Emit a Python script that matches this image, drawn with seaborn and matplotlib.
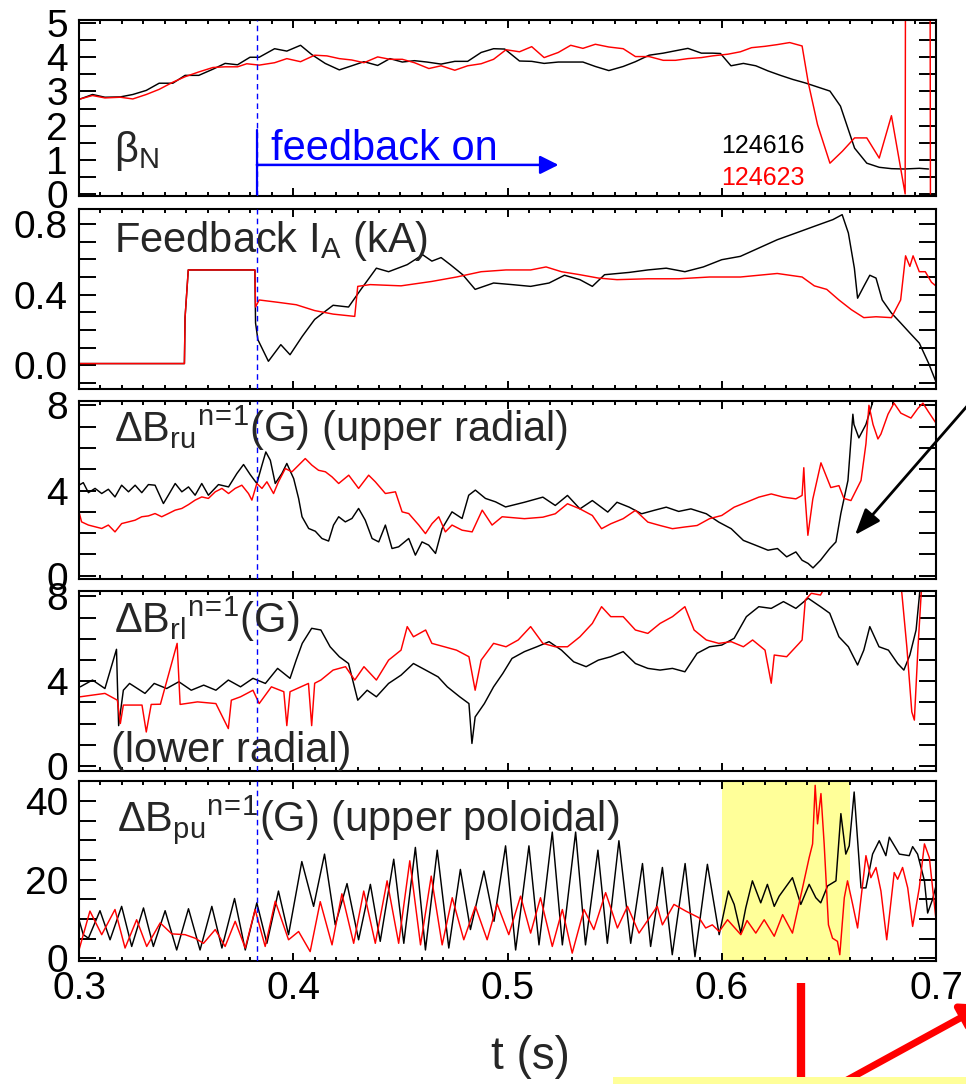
import numpy as np
import pandas as pd
import matplotlib
matplotlib.use("Agg")
import matplotlib.pyplot as plt
import seaborn as sns
from matplotlib.ticker import MultipleLocator, FixedLocator, FormatStrFormatter
from matplotlib.patches import FancyArrowPatch, Rectangle
from matplotlib.lines import Line2D

# ---------------- data ----------------
shots = ["124616", "124623"]
feedback_on_t = 0.383
highlight_t = [0.600, 0.660]

# beta_N
bn_t_k = [0.3006,0.3063,0.3121,0.3193,0.3251,0.3314,0.3374,0.3438,0.3495,0.3559,
          0.3625,0.3682,0.3740,0.3798,0.3841,0.3913,0.3970,0.4034,0.4086,0.4149,
          0.4215,0.4273,0.4330,0.4394,0.4451,0.4509,0.4566,0.4624,0.4690,0.4754,
          0.4814,0.4877,0.4935,0.4987,0.5056,0.5113,0.5171,0.5237,0.5295,0.5352,
          0.5410,0.5473,0.5540,0.5597,0.5661,0.5727,0.5784,0.5842,0.5905,0.5957,
          0.5994,0.6043,0.6101,0.6159,0.6216,0.6274,0.6332,0.6389,0.6447,0.6505,
          0.6554,0.6591,0.6620,0.6677,0.6735,0.6792,0.6850,0.6922,0.6965]
bn_v_k = [2.78,2.91,2.83,2.84,2.91,3.03,3.24,3.24,3.47,3.47,
          3.65,3.82,3.78,4.0,4.0,4.25,4.18,4.35,4.08,3.82,
          3.63,3.75,3.87,3.76,3.96,3.86,3.9,3.86,3.8,3.88,
          3.88,4.14,4.25,4.24,3.89,3.88,3.82,3.86,3.86,3.86,
          3.73,3.61,3.73,3.87,4.06,4.12,4.19,4.26,4.12,4.12,
          4.11,3.75,3.82,3.75,3.6,3.47,3.35,3.25,3.13,3.01,
          2.57,1.88,1.34,0.9,0.78,0.74,0.73,0.75,0.73]
bn_t_r = [0.3006,0.3063,0.3121,0.3193,0.3251,0.3314,0.3374,0.3438,0.3495,0.3559,
          0.3625,0.3682,0.3740,0.3783,0.3841,0.3913,0.3970,0.4034,0.4100,0.4157,
          0.4215,0.4273,0.4330,0.4394,0.4451,0.4509,0.4566,0.4633,0.4690,0.4754,
          0.4814,0.4877,0.4935,0.4993,0.5056,0.5113,0.5171,0.5237,0.5295,0.5352,
          0.5410,0.5473,0.5540,0.5597,0.5661,0.5727,0.5784,0.5842,0.5905,0.5957,
          0.6029,0.6087,0.6139,0.6202,0.6259,0.6317,0.6375,0.6404,0.6447,0.6505,
          0.6563,0.6620,0.6677,0.6735,0.6792,0.6856,0.6858,0.6972,0.6974]
bn_v_r = [2.78,2.88,2.81,2.83,2.78,2.91,3.06,3.27,3.43,3.57,
          3.70,3.72,3.72,3.81,3.77,3.84,3.96,3.87,4.06,4.04,
          3.96,3.92,3.84,4.01,3.94,3.94,3.84,3.67,3.75,3.62,
          3.75,3.81,3.94,4.22,4.16,4.31,3.99,4.14,4.35,4.26,
          4.38,4.30,4.25,4.02,4.02,3.91,3.91,3.96,3.99,4.04,
          4.09,4.16,4.28,4.32,4.37,4.43,4.33,3.25,2.03,0.90,
          1.25,1.64,1.64,1.05,2.29,0.0,8.0,8.0,0.0]

# Feedback I_A (kA)
ia_t_k = [0.3,0.3492,0.3495,0.3510,0.3821,0.3824,0.3835,0.3884,0.3942,0.3985,
          0.4042,0.4100,0.4186,0.4258,0.4316,0.4388,0.4445,0.4532,0.4604,0.4647,
          0.4690,0.4733,0.4791,0.4849,0.4935,0.5021,0.5108,0.5194,0.5266,0.5338,
          0.5396,0.5453,0.5568,0.5655,0.5741,0.5828,0.5914,0.6000,0.6087,0.6173,
          0.6259,0.6346,0.6432,0.6519,0.6562,0.6591,0.6619,0.6634,0.6663,0.6691,
          0.6720,0.6749,0.6792,0.6835,0.6878,0.6922,0.6965,0.7002]
ia_v_k = [0.01,0.01,0.27,0.54,0.54,0.24,0.145,0.023,0.117,0.06,
          0.164,0.26,0.34,0.33,0.43,0.55,0.53,0.57,0.626,0.59,
          0.61,0.57,0.513,0.43,0.466,0.457,0.447,0.466,0.51,0.485,
          0.447,0.513,0.526,0.54,0.55,0.53,0.557,0.598,0.617,0.664,
          0.711,0.749,0.787,0.825,0.853,0.749,0.55,0.38,0.447,0.51,
          0.494,0.37,0.296,0.24,0.183,0.126,0.013,-0.1]
ia_t_r = [0.3,0.3492,0.3495,0.3510,0.3821,0.3824,0.3841,0.3927,0.4014,0.4100,
          0.4186,0.4287,0.4301,0.4359,0.4503,0.4647,0.4762,0.4877,0.4993,0.5108,
          0.5180,0.5252,0.5338,0.5424,0.5511,0.5655,0.5799,0.5943,0.6087,0.6259,
          0.6375,0.6432,0.6490,0.6547,0.6605,0.6663,0.6720,0.6792,0.6835,0.6858,
          0.6878,0.6893,0.6922,0.6950,0.6979,0.7002]
ia_v_r = [0.01,0.01,0.27,0.54,0.54,0.33,0.37,0.357,0.343,0.31,
          0.29,0.277,0.447,0.457,0.45,0.475,0.50,0.53,0.54,0.54,
          0.557,0.53,0.513,0.494,0.485,0.49,0.49,0.50,0.50,0.52,
          0.50,0.45,0.43,0.37,0.315,0.27,0.275,0.27,0.37,0.62,
          0.56,0.62,0.53,0.53,0.47,0.447]

# dB_ru (upper radial)
ru_t_k = [0.3,0.302,0.3044,0.3075,0.3106,0.3137,0.3168,0.3199,0.3231,0.3262,
          0.3293,0.3324,0.3355,0.3394,0.3417,0.3449,0.348,0.3511,0.3542,0.3573,
          0.3604,0.3651,0.3698,0.3737,0.3768,0.3799,0.383,0.3854,0.3872,0.3893,
          0.3916,0.3947,0.397,0.4002,0.4025,0.4041,0.4072,0.4103,0.4134,0.4165,
          0.4188,0.4212,0.4243,0.4274,0.4305,0.4336,0.4368,0.4399,0.443,0.4461,
          0.4492,0.4539,0.457,0.4601,0.4632,0.4664,0.4695,0.4741,0.4788,0.4819,
          0.485,0.4897,0.4944,0.4991,
          0.5079,0.5165,0.5223,0.5280,0.5338,0.5396,0.5468,0.5511,0.5568,0.5626,
          0.5684,0.5741,0.5799,0.5856,0.5928,0.5986,0.6044,0.6101,0.6159,0.6216,
          0.6260,0.6303,0.6346,0.6375,0.6403,0.6426,0.6461,0.6504,0.6533,0.6556,
          0.6589,0.6612,0.6617,0.6640,0.6673,0.6706,0.6720,0.7000]
ru_v_k = [4.25,4.37,3.9,4.1,3.86,4.06,3.7,4.25,3.94,4.25,
          3.9,4.28,4.25,3.39,3.78,4.33,3.94,4.17,3.78,4.33,
          3.78,4.28,4.17,4.8,5.22,4.75,4.33,5.19,5.81,5.42,
          4.33,4.8,5.27,4.56,3.63,2.77,2.22,2.09,1.75,1.63,
          2.38,2.77,2.53,2.69,3.16,2.61,1.75,1.59,2.38,1.28,
          1.36,1.75,0.97,1.59,1.44,1.05,2.22,3.0,2.69,3.78,
          4.02,3.63,3.47,3.23,
          3.45,3.69,3.3,3.77,3.14,3.53,2.99,3.45,3.22,2.91,
          3.07,3.22,3.02,3.14,2.91,2.52,2.21,1.66,1.43,1.2,
          1.28,0.89,1.12,0.73,0.58,0.37,0.73,1.28,1.59,2.93,
          4.47,7.58,7.1,6.47,7.1,8.2,9.5,10.0]
ru_t_r = [0.3,0.3012,0.3044,0.3075,0.3106,0.3137,0.3168,0.3199,0.3231,0.3262,
          0.3293,0.3324,0.3355,0.3386,0.3417,0.3449,0.348,0.3511,0.3542,0.3573,
          0.3604,0.3636,0.3667,0.3698,0.3729,0.376,0.3791,0.3807,0.383,0.3854,
          0.3877,0.3908,0.3931,0.3963,0.3994,0.4025,0.4056,0.4087,0.4118,0.415,
          0.4181,0.4212,0.4259,0.4305,0.4352,0.4383,0.443,0.4477,0.4508,0.4539,
          0.4586,0.4617,0.4648,0.4679,0.471,0.4741,0.4788,0.4835,0.4882,0.4928,
          0.4975,
          0.5079,0.5165,0.5223,0.5280,0.5338,0.5396,0.5439,0.5482,0.5540,0.5597,
          0.5655,0.5712,0.5770,0.5828,0.5885,0.5943,0.6000,0.6058,0.6115,0.6173,
          0.6231,0.6288,0.6346,0.6375,0.6383,0.6390,0.6402,0.6425,0.6463,0.6509,
          0.6547,0.6570,0.6603,0.6650,0.6673,0.6687,0.6706,0.6729,0.6743,0.6776,
          0.6804,0.6836,0.6883,0.6916,0.6939,0.6963,0.7000]
ru_v_r = [3.0,2.53,2.38,2.3,2.22,2.38,2.06,2.45,2.53,2.61,
          2.77,2.81,2.92,2.77,2.92,3.08,3.16,3.34,3.55,3.7,
          3.63,3.94,4.1,3.86,4.1,4.25,3.86,3.55,4.33,4.1,
          4.41,3.86,4.41,5.03,4.88,5.19,5.5,5.19,4.95,4.88,
          4.64,4.33,4.72,4.1,4.72,4.41,3.86,3.94,3.0,2.92,
          2.38,1.98,2.45,2.77,2.06,2.38,2.14,2.06,3.08,2.38,
          2.77,
          2.68,2.75,2.91,3.38,3.14,2.83,2.21,2.44,2.68,3.07,
          2.52,2.36,2.21,2.29,2.36,2.68,2.83,3.22,3.45,3.69,
          3.84,3.69,3.61,3.77,5.07,3.6,1.9,3.6,5.3,4.14,
          4.23,3.63,3.53,4.47,6.19,8.0,7.1,6.42,6.65,7.58,
          8.1,7.63,7.4,7.86,8.1,7.72,7.16]

# dB_rl (lower radial)
rl_t_k = [0.3006,0.3063,0.3121,0.3175,0.3179,0.3185,0.3207,0.3236,0.3308,0.3351,
          0.3409,0.3466,0.3524,0.3582,0.3639,0.3697,0.3754,0.3812,0.3870,0.3927,
          0.3985,0.4014,0.4042,0.4086,0.4129,0.4172,0.4215,0.4258,0.4301,0.4345,
          0.4388,0.4445,0.4503,0.4561,0.4618,0.4676,0.4719,0.4777,0.4820,0.4834,
          0.4849,0.4892,0.4935,0.4978,0.5021,0.5079,0.5137,0.5194,0.5252,0.5309,
          0.5367,0.5424,0.5482,0.5540,0.5597,0.5655,0.5712,0.5770,0.5828,0.5885,
          0.5943,0.6000,0.6058,0.6115,0.6173,0.6231,0.6288,0.6346,0.6403,0.6461,
          0.6504,0.6547,0.6591,0.6634,0.6663,0.6691,0.6734,0.6778,0.6821,0.6850,
          0.6878,0.6907,0.6927,0.6979]
rl_v_k = [3.73,4.05,3.65,5.5,3.97,1.9,3.57,3.89,3.42,3.89,
          3.65,3.97,3.57,3.81,3.57,4.05,3.73,4.13,3.89,4.6,
          4.13,5.0,5.78,6.49,6.41,5.62,5.15,4.83,3.1,3.57,
          3.26,3.89,4.28,4.83,4.52,4.2,3.73,3.26,2.94,1.06,
          2.31,2.94,3.73,4.36,5.07,5.39,5.62,5.86,5.46,4.91,
          4.68,4.99,5.15,5.39,4.83,4.6,4.52,4.6,4.44,5.31,
          5.62,5.7,6.02,7.04,7.51,7.43,7.75,7.43,7.91,7.51,
          7.2,6.09,5.62,4.76,5.46,6.57,5.62,5.46,4.83,4.52,
          5.23,6.41,8.5,9.5]
rl_t_r = [0.3006,0.3063,0.3121,0.3179,0.3193,0.3207,0.3294,0.3314,0.3337,0.3380,
          0.3458,0.3472,0.3553,0.3639,0.3697,0.3711,0.3754,0.3812,0.3841,0.3898,
          0.3956,0.3970,0.3985,0.4071,0.4086,0.4100,0.4129,0.4186,0.4244,0.4287,
          0.4330,0.4388,0.4445,0.4503,0.4532,0.4561,0.4618,0.4647,0.4705,0.4762,
          0.4820,0.4849,0.4877,0.4935,0.4993,0.5050,0.5108,0.5165,0.5223,0.5280,
          0.5338,0.5396,0.5439,0.5482,0.5540,0.5597,0.5655,0.5712,0.5770,0.5828,
          0.5871,0.5928,0.5986,0.6044,0.6101,0.6144,0.6202,0.6231,0.6245,0.6303,
          0.6361,0.6375,0.6390,0.6418,0.6461,0.6490,0.6663,0.6821,0.6841,0.6864,
          0.6887,0.6899,0.6916,0.6936,0.6994]
rl_v_r = [3.26,3.34,3.42,3.1,2.0,2.87,2.87,1.6,2.9,2.91,
          5.78,2.9,3.02,2.94,1.76,3.1,3.26,3.57,2.94,3.73,
          3.5,1.9,3.5,3.89,1.9,3.9,4.05,4.52,4.68,4.05,
          4.68,4.05,4.99,5.46,6.57,6.09,6.41,5.78,5.62,5.46,
          5.15,3.57,4.99,5.78,5.62,5.94,6.57,5.78,5.62,5.62,
          6.09,6.72,7.51,7.04,7.04,6.41,6.25,6.72,7.04,7.51,
          6.41,5.94,5.78,5.86,5.62,5.94,5.46,3.9,5.23,5.15,
          5.78,5.94,7.83,8.14,8.06,8.6,10.0,10.0,8.1,5.6,
          2.55,2.16,5.6,9.0,10.0]

# dB_pu (upper poloidal)
pu_t_k = [0.3000,0.3020,0.3044,0.3098,0.3145,0.3199,0.3246,0.3301,0.3347,0.3402,
          0.3456,0.3511,0.3565,0.3620,0.3667,0.3726,0.3776,0.3830,0.3877,0.3931,
          0.3978,0.4040,0.4095,0.4146,0.4196,0.4251,0.4305,
          0.4360,0.4406,0.4469,0.4516,0.4570,0.4617,0.4672,0.4726,0.4780,0.4827,
          0.4890,0.4937,0.4991,0.5038,0.5100,0.5147,0.5209,0.5256,0.5318,0.5364,
          0.5422,0.5466,0.5520,0.5575,0.5630,
          0.5668,0.5723,0.5769,0.5829,0.5875,0.5933,0.5988,0.6031,0.6058,0.6089,
          0.6112,0.6143,0.6182,0.6213,0.6245,0.6268,0.6330,0.6369,0.6408,0.6439,
          0.6462,0.6494,0.6533,0.6556,0.6579,0.6595,0.6618,0.6650,0.6673,0.6704,
          0.6735,0.6766,0.6782,0.6829,0.6875,0.6891,0.6914,0.6946,0.6961,0.6984,
          0.7000]
pu_v_k = [9.8,6.0,5.1,12.1,4.7,13.2,3.0,12.8,3.0,12.1,
          2.1,12.6,2.1,13.2,2.6,15.2,2.1,14.1,3.8,17.1,
          6.0,24.6,13.2,26.5,8.5,19.0,4.7,
          18.8,4.3,25.2,3.8,28.2,2.1,27.5,2.6,22.6,7.3,
          22.2,9.4,28.6,2.1,28.6,3.4,32.1,3.4,32.1,3.4,
          27.5,3.8,29.9,3.8,24.1,
          3.0,23.1,0.9,24.1,0.4,23.9,6.0,17.1,13.7,6.4,
          12.8,19.7,14.1,18.8,13.2,15.8,20.5,13.7,18.8,15.4,
          14.1,18.4,19.7,36.8,26.5,28.6,42.3,17.9,17.9,26.5,
          29.9,26.1,30.8,26.5,26.1,28.4,26.5,19.7,11.5,15.0,
          18.4]
pu_t_r = [0.3000,0.3051,0.3106,0.3168,0.3215,0.3269,0.3316,0.3379,0.3433,0.3495,
          0.3542,0.3581,0.3636,0.3682,0.3729,0.3776,0.3822,0.3869,0.3916,0.3978,
          0.4025,0.4079,0.4126,0.4181,0.4227,0.4282,0.4329,
          0.4383,0.4438,0.4492,0.4544,0.4594,0.4644,0.4695,0.4742,0.4796,0.4850,
          0.4905,0.4952,0.5006,0.5061,0.5108,0.5154,0.5209,0.5256,0.5302,0.5357,
          0.5403,0.5458,0.5513,0.5560,0.5614,
          0.5699,0.5723,0.5777,0.5832,0.5894,0.5925,0.5956,0.5988,0.6027,0.6089,
          0.6118,0.6159,0.6198,0.6245,0.6284,0.6330,0.6377,0.6408,0.6424,0.6436,
          0.6447,0.6463,0.6478,0.6498,0.6517,0.6540,0.6551,0.6572,0.6587,0.6611,
          0.6634,0.6673,0.6696,0.6720,0.6743,0.6770,0.6805,0.6821,0.6844,0.6868,
          0.6891,0.6922,0.6946,0.6969,0.7000]
pu_v_r = [2.1,12.0,6.0,12.4,2.6,9.8,3.0,9.0,6.2,6.0,
          5.1,3.8,7.3,3.0,9.4,2.6,12.4,3.0,14.5,4.7,
          6.8,1.7,14.4,3.4,16.4,3.8,17.1,
          3.8,19.7,3.8,24.8,3.4,20.9,3.4,15.4,4.7,13.2,
          4.7,13.8,6.0,15.8,6.4,15.4,3.0,12.4,1.3,12.4,
          7.3,16.7,7.7,13.2,6.4,
          13.2,8.5,13.7,12.0,10.3,7.7,8.5,6.8,9.8,6.0,
          9.6,6.4,9.8,5.6,11.1,6.4,17.9,25.6,29.1,44.0,
          34.2,41.9,29.1,8.5,5.1,4.3,0.9,15.4,19.7,13.7,
          7.7,26.1,20.5,23.1,17.1,4.7,21.8,20.1,23.1,17.9,
          8.1,17.9,29.1,25.6,9.8]

# ---------------- styling ----------------
sns.set_style("ticks")
plt.rcParams["font.family"] = ["Liberation Sans", "DejaVu Sans"]
plt.rcParams["mathtext.fontset"] = "custom"
plt.rcParams["mathtext.rm"] = "Liberation Sans"
plt.rcParams["mathtext.it"] = "Liberation Sans:italic"
plt.rcParams["mathtext.bf"] = "Liberation Sans:bold"
plt.rcParams["mathtext.default"] = "regular"

W, H = 966, 1084
fig = plt.figure(figsize=(W / 100, H / 100), dpi=100)

def add_axes(top_px, bottom_px, left_px=79, right_px=936):
    return fig.add_axes([left_px / W, 1 - bottom_px / H,
                         (right_px - left_px) / W, (bottom_px - top_px) / H])

ax1 = add_axes(20, 196)
ax2 = add_axes(209, 389)
ax3 = add_axes(401, 579)
ax4 = add_axes(591, 771)
ax5 = add_axes(781, 961)
axes = [ax1, ax2, ax3, ax4, ax5]

TICK_FS = 28
LABEL_FS = 30

def draw(ax, t, v, color):
    df = pd.DataFrame({"t": t, "v": v})
    sns.lineplot(data=df, x="t", y="v", ax=ax, color=color, lw=1.05,
                 estimator=None, sort=False, legend=False)

def style(ax, ylim, majors, minor, fmt, show_x=False):
    ax.set_xlim(0.3, 0.7)
    ax.set_ylim(*ylim)
    ax.xaxis.set_major_locator(MultipleLocator(0.1))
    ax.xaxis.set_minor_locator(MultipleLocator(0.01))
    ax.yaxis.set_major_locator(FixedLocator(majors))
    ax.yaxis.set_minor_locator(MultipleLocator(minor))
    ax.yaxis.set_major_formatter(FormatStrFormatter(fmt))
    ax.xaxis.set_major_formatter(FormatStrFormatter("%.1f"))
    ax.tick_params(axis="both", which="both", direction="in", top=True,
                   right=True, width=1.4, labelsize=TICK_FS, colors="black")
    ax.tick_params(axis="x", which="major", length=6, pad=7)
    ax.tick_params(axis="x", which="minor", length=3)
    ax.tick_params(axis="y", which="both", length=12, pad=8)
    ax.tick_params(axis="x", labelbottom=show_x)
    for s in ax.spines.values():
        s.set_linewidth(1.5)
        s.set_color("black")
    ax.set_xlabel("")
    ax.set_ylabel("")

# highlight
ax5.axvspan(highlight_t[0], highlight_t[1], color="#FFFF99", zorder=0, lw=0)

draw(ax1, bn_t_k, bn_v_k, "black")
draw(ax1, bn_t_r, bn_v_r, "red")
draw(ax2, ia_t_k, ia_v_k, "black")
draw(ax2, ia_t_r, ia_v_r, "red")
draw(ax3, ru_t_k, ru_v_k, "black")
draw(ax3, ru_t_r, ru_v_r, "red")
draw(ax4, rl_t_k, rl_v_k, "black")
draw(ax4, rl_t_r, rl_v_r, "red")
draw(ax5, pu_t_k, pu_v_k, "black")
draw(ax5, pu_t_r, pu_v_r, "red")

style(ax1, (-0.06, 5.09), [0, 1, 2, 3, 4, 5], 0.5, "%d")
style(ax2, (-0.134, 0.885), [0.0, 0.4, 0.8], 0.1, "%.1f")
style(ax3, (-0.15, 8.2), [0, 4, 8], 1, "%d")
style(ax4, (-0.24, 8.25), [0, 4, 8], 1, "%d")
style(ax5, (-0.7, 45.1), [0, 20, 40], 5, "%d", show_x=True)

for ax in axes:
    ax.axvline(feedback_on_t, color="blue", ls=(0, (4, 3)), lw=1.0, zorder=3)

# feedback-on marker
ax1.plot([feedback_on_t, feedback_on_t], [-0.06, 1.87], color="blue", lw=1.6)
ax1.annotate("", xy=(0.5238, 0.85), xytext=(feedback_on_t, 0.85),
             arrowprops=dict(arrowstyle="-|>,head_length=0.4,head_width=0.2",
                             color="blue", lw=1.8, mutation_scale=28,
                             shrinkA=0, shrinkB=0))
ax1.text(0.224, 0.205, "feedback on", transform=ax1.transAxes, color="blue",
         fontsize=LABEL_FS, va="baseline", ha="left")

# panel labels
ax1.text(0.041, 0.193, r"β$_{N}$", transform=ax1.transAxes,
         fontsize=LABEL_FS, va="baseline")
ax1.text(0.749, 0.244, shots[0], transform=ax1.transAxes, fontsize=18,
         color="black", va="baseline")
ax1.text(0.749, 0.0625, shots[1], transform=ax1.transAxes, fontsize=18,
         color="red", va="baseline")
ax2.text(0.041, 0.761, r"Feedback I$_{A}$ (kA)", transform=ax2.transAxes,
         fontsize=LABEL_FS, va="baseline")
ax3.text(0.041, 0.77, r"ΔB$_{ru}{}^{n\!=\!1}$(G) (upper radial)",
         transform=ax3.transAxes, fontsize=LABEL_FS, va="baseline")
ax4.text(0.041, 0.767, r"ΔB$_{rl}{}^{n\!=\!1}$(G)",
         transform=ax4.transAxes, fontsize=LABEL_FS, va="baseline")
ax4.text(0.037, 0.05, "(lower radial)", transform=ax4.transAxes,
         fontsize=LABEL_FS, va="baseline")
ax5.text(0.044, 0.72, r"ΔB$_{pu}{}^{n\!=\!1}$(G) (upper poloidal)",
         transform=ax5.transAxes, fontsize=LABEL_FS, va="baseline")

fig.text(530 / W, 1 - 1057 / H, "t (s)", ha="center", va="center", fontsize=33)

# slide decorations around the figure
fig.add_artist(FancyArrowPatch((975 / W, 1 - 397 / H), (855 / W, 1 - 535 / H),
                               transform=fig.transFigure,
                               arrowstyle="-|>,head_length=0.4,head_width=0.15",
                               mutation_scale=40, lw=2, color="black",
                               shrinkA=0, shrinkB=0, zorder=5))
fig.add_artist(Line2D([801 / W, 801 / W], [1 - 983 / H, 0], transform=fig.transFigure,
                      lw=6, color="red", zorder=5, solid_capstyle="butt"))
fig.add_artist(FancyArrowPatch((838 / W, 1 - 1085 / H), (984 / W, 1 - 1005 / H),
                               transform=fig.transFigure,
                               arrowstyle="-|>,head_length=0.4,head_width=0.25",
                               mutation_scale=32, lw=5, color="red",
                               shrinkA=0, shrinkB=0, zorder=5))
fig.add_artist(Rectangle((613 / W, 0), (W - 613) / W, 7 / H, transform=fig.transFigure,
                         facecolor="#FFFF99", edgecolor="none", zorder=6))

fig.savefig("out.png", dpi=100)
